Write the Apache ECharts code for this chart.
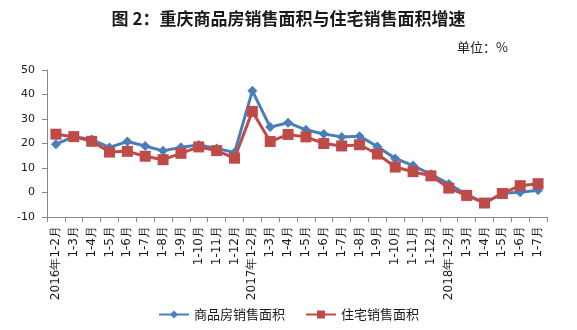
<!DOCTYPE html>
<html>
<head>
<meta charset="utf-8">
<script src="https://cdn.jsdelivr.net/npm/echarts@6/dist/echarts.min.js"></script>
<style>
html,body{margin:0;padding:0;background:#fff;}
#chart{width:577px;height:330px;}
</style>
</head>
<body>
<div id="chart"></div>
<script>
// Month labels along the x axis
const categories = [
  '2016年1-2月','1-3月','1-4月','1-5月','1-6月','1-7月','1-8月','1-9月','1-10月','1-11月','1-12月',
  '2017年1-2月','1-3月','1-4月','1-5月','1-6月','1-7月','1-8月','1-9月','1-10月','1-11月','1-12月',
  '2018年1-2月','1-3月','1-4月','1-5月','1-6月','1-7月'
];
// Cumulative year-on-year growth, %
const commercialHousing = [
  19.7, 22.8, 21.6, 18.4, 20.8, 19.0, 17.0, 18.5, 19.4, 18.0, 16.3,
  41.5, 26.7, 28.5, 25.6, 23.9, 22.7, 23.0, 18.8, 13.9, 11.0, 7.4,
  3.5, -0.8, -4.3, -0.3, 0.1, 0.9
];
const residential = [
  23.8, 22.8, 20.9, 16.5, 16.8, 14.8, 13.4, 16.0, 18.6, 17.1, 14.0,
  33.1, 20.8, 23.7, 22.7, 20.0, 19.0, 19.5, 15.7, 10.4, 8.5, 6.8,
  1.8, -1.2, -4.3, -0.4, 2.8, 3.6
];
const yTicks = { min: -10, max: 50, interval: 10 };

const chart = echarts.init(document.getElementById('chart'));
chart.setOption({
  backgroundColor: '#ffffff',
  animation: false,
  title: [
    {
      text: '图 2：重庆商品房销售面积与住宅销售面积增速',
      left: 'center', top: 5,
      textStyle: { fontFamily: 'Noto Sans CJK SC', fontWeight: 'bold', fontSize: 17, color: '#1a1a1a' }
    },
    {
      text: '单位：%',
      right: 64, top: 36,
      textStyle: { fontFamily: 'Noto Sans CJK SC', fontWeight: 'normal', fontSize: 13, color: '#1a1a1a' }
    }
  ],
  grid: { left: 47, right: 30, top: 70, bottom: 113 },
  legend: {
    bottom: 4, left: 'center',
    itemWidth: 30, itemHeight: 10, itemGap: 20,
    textStyle: { fontFamily: 'Noto Sans CJK SC', fontSize: 13, color: '#1a1a1a' },
    data: ['商品房销售面积', '住宅销售面积']
  },
  xAxis: {
    type: 'category',
    data: categories,
    boundaryGap: true,
    axisLine: { onZero: false, lineStyle: { color: '#888888', width: 1 } },
    axisTick: { show: true, length: 5, alignWithLabel: false, lineStyle: { color: '#888888' } },
    axisLabel: {
      interval: 0, rotate: 90, margin: 9,
      fontFamily: 'DejaVu Sans', fontSize: 12, color: '#1a1a1a'
    },
    splitLine: { show: false }
  },
  yAxis: {
    type: 'value',
    min: yTicks.min, max: yTicks.max, interval: yTicks.interval,
    axisLine: { show: true, lineStyle: { color: '#888888', width: 1 } },
    axisTick: { show: true, length: 5, inside: false, lineStyle: { color: '#888888' } },
    axisLabel: { fontFamily: 'DejaVu Sans', fontSize: 11, color: '#1a1a1a', margin: 12 },
    splitLine: { show: false }
  },
  series: [
    {
      name: '商品房销售面积',
      type: 'line',
      data: commercialHousing,
      symbol: 'diamond',
      symbolSize: 10,
      lineStyle: { color: '#4a7ebb', width: 3 },
      itemStyle: { color: '#4a7ebb' },
      z: 2
    },
    {
      name: '住宅销售面积',
      type: 'line',
      data: residential,
      symbol: 'rect',
      symbolSize: 11,
      lineStyle: { color: '#be4b48', width: 3 },
      itemStyle: { color: '#be4b48' },
      z: 3
    }
  ]
});
</script>
</body>
</html>
